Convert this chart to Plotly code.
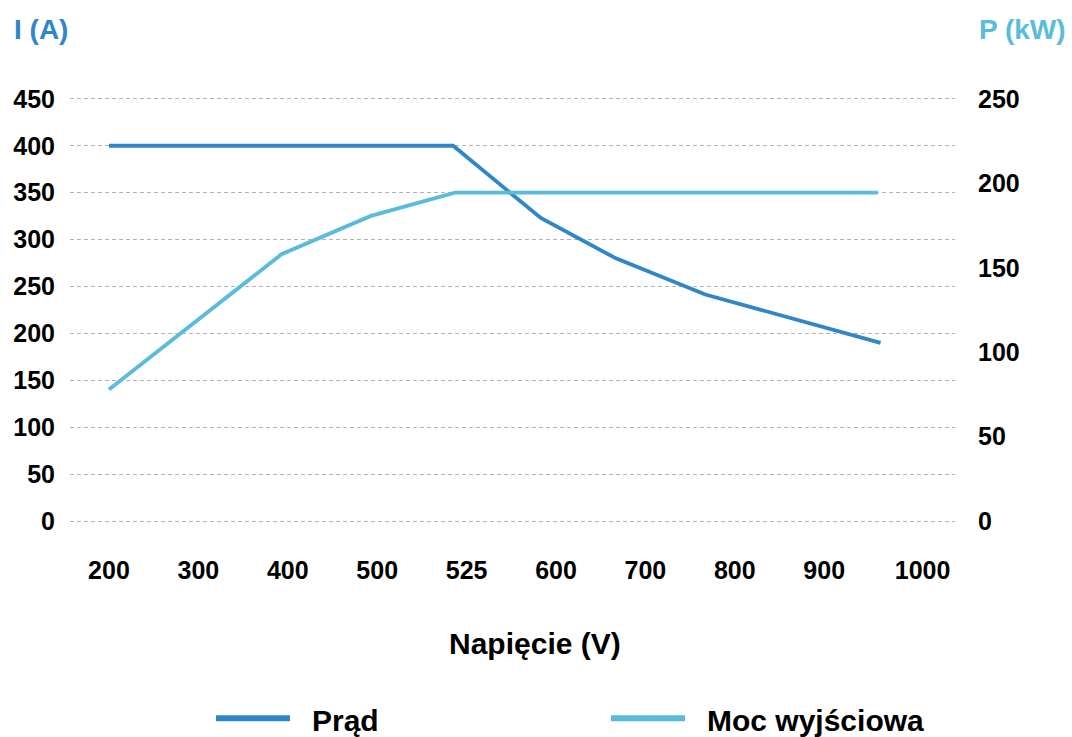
import plotly.graph_objects as go

# Category axis labels (voltage, V)
x_labels = ["200", "300", "400", "500", "525", "600", "700", "800", "900", "1000"]
x_label_pos = [0, 1, 2, 3, 4, 5, 6, 7, 8, 9.1]

# Current series (A), x in category-index units
prad_x = [0, 3.85, 4.83, 5.67, 6.67, 8.63]
prad_y = [400, 400, 323, 280, 241.5, 190]

# Output power series (kW)
moc_x = [0, 1.93, 2.93, 3.87, 8.6]
moc_y = [78, 158, 180.7, 194.5, 194.5]

C_PRAD = "#2F86C8"
C_MOC = "#5ABCDA"
FONT = "Liberation Sans, Arial, sans-serif"

fig = go.Figure()
fig.add_trace(go.Scatter(x=prad_x, y=prad_y, mode="lines", name="Prąd",
                         line=dict(color=C_PRAD, width=3.8), yaxis="y"))
fig.add_trace(go.Scatter(x=moc_x, y=moc_y, mode="lines", name="Moc wyjściowa",
                         line=dict(color=C_MOC, width=3.8), yaxis="y2"))

W, H = 1072, 737
L, R = 70, 117
# plot area for values 0..450 spans y=99..521; pad the range by 3 units each side
pad_u = 3
ppu = (521 - 99) / 450
T = 99 - pad_u * ppu
B = (H - 521) - pad_u * ppu
pw, ph = W - L - R, H - T - B

def px(xp):
    return (xp - L) / pw

def py(yp):
    return (H - B - yp) / ph

tickfont = dict(family=FONT, size=25, color="#000000", weight="bold")
k2 = 250 / 450

fig.update_layout(
    width=W, height=H,
    margin=dict(l=L, r=R, t=T, b=B, pad=0),
    paper_bgcolor="white", plot_bgcolor="white",
    showlegend=False,
    xaxis=dict(range=[-0.436, 9.463], tickvals=x_label_pos, ticktext=x_labels,
               showgrid=False, zeroline=False, showline=False, ticks="",
               tickfont=tickfont, ticklabelstandoff=int(round(26 + pad_u * ppu)),
               fixedrange=True),
    yaxis=dict(range=[-pad_u, 450 + pad_u], dtick=50, showgrid=True, gridcolor="#b3b3b3",
               gridwidth=1, griddash="4px,3px", zeroline=False, showline=False,
               ticks="", tickfont=tickfont, ticklabelstandoff=14),
    yaxis2=dict(range=[-pad_u * k2, 250 + pad_u * k2], dtick=50,
                overlaying="y", side="right",
                showgrid=False, zeroline=False, showline=False, ticks="",
                tickfont=tickfont, ticklabelstandoff=22),
)

ann = []
ann.append(dict(text="I (A)", x=px(12), y=py(30), xref="paper", yref="paper",
                xanchor="left", yanchor="middle", showarrow=False,
                font=dict(family=FONT, size=28, color=C_PRAD, weight="bold")))
ann.append(dict(text="P (kW)", x=px(1068), y=py(30), xref="paper", yref="paper",
                xanchor="right", yanchor="middle", showarrow=False,
                font=dict(family=FONT, size=28, color=C_MOC, weight="bold")))
ann.append(dict(text="Napięcie (V)", x=px(535), y=py(643), xref="paper", yref="paper",
                xanchor="center", yanchor="middle", showarrow=False,
                font=dict(family=FONT, size=30, color="#000000", weight="bold")))
# legend
ann.append(dict(text="Prąd", x=px(310), y=py(720), xref="paper", yref="paper",
                xanchor="left", yanchor="middle", showarrow=False,
                font=dict(family=FONT, size=30, color="#000000", weight="bold")))
ann.append(dict(text="Moc wyjściowa", x=px(705), y=py(720), xref="paper", yref="paper",
                xanchor="left", yanchor="middle", showarrow=False,
                font=dict(family=FONT, size=30, color="#000000", weight="bold")))
fig.update_layout(annotations=ann)

shapes = [
    dict(type="line", xref="paper", yref="paper", x0=px(216), x1=px(290),
         y0=py(718), y1=py(718), line=dict(color=C_PRAD, width=6)),
    dict(type="line", xref="paper", yref="paper", x0=px(611), x1=px(685),
         y0=py(718), y1=py(718), line=dict(color=C_MOC, width=6)),
]
fig.update_layout(shapes=shapes)

fig.write_html("out.html", config={"displayModeBar": False},
               post_script="document.body.style.margin='0';document.body.style.overflow='hidden';")
